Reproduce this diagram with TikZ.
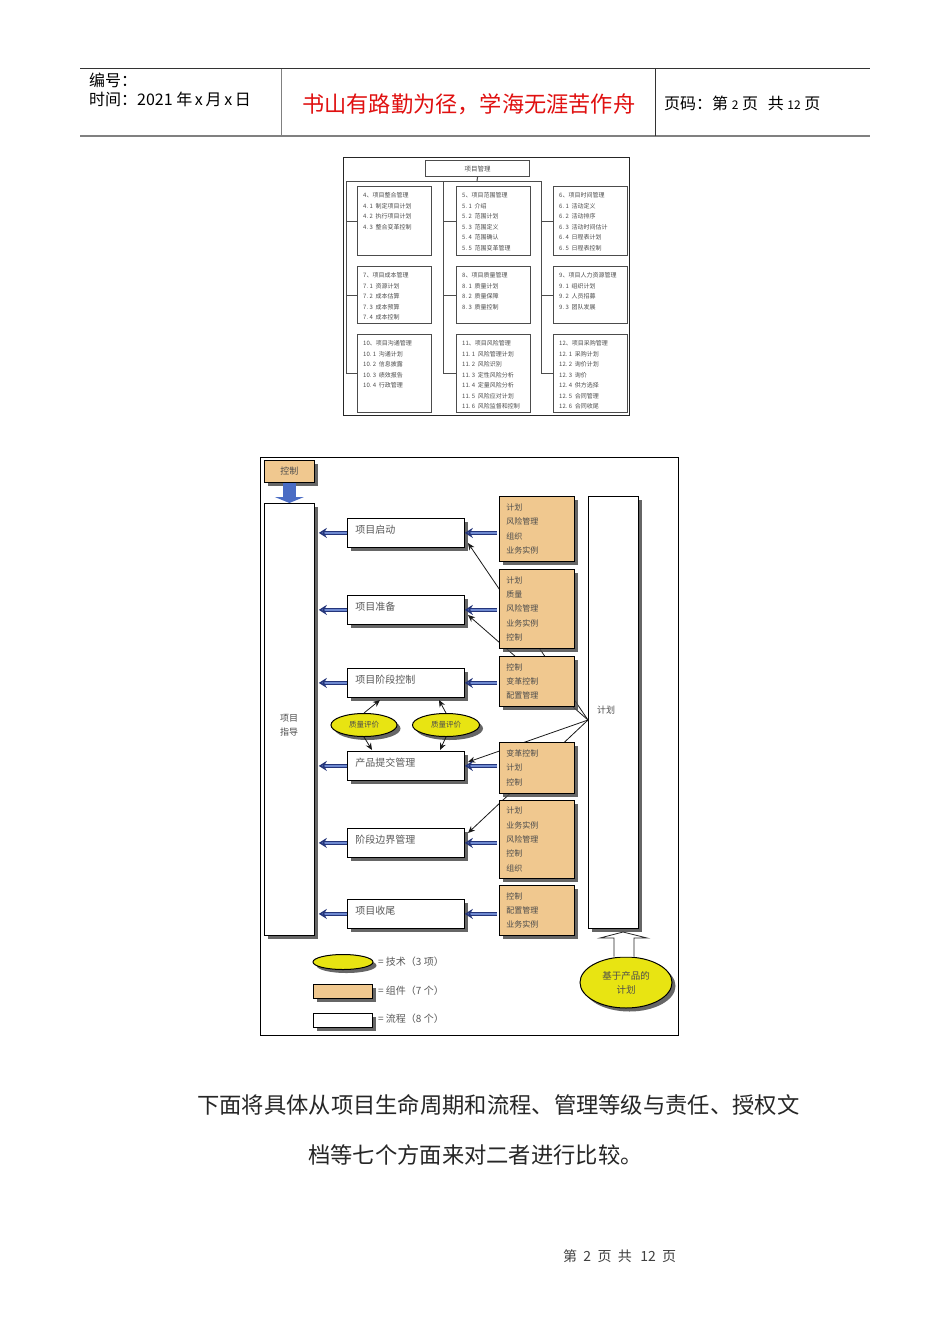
\documentclass[tikz,border=0pt]{standalone}
\usepackage{fontspec}
\usepackage{xcolor}
\usetikzlibrary{arrows.meta,shapes.geometric,shadows,calc}
\newfontfamily\cjk{Noto Sans CJK SC}
\definecolor{compcol}{HTML}{F0C88F}
\definecolor{techcol}{HTML}{E8E412}
\definecolor{navycol}{HTML}{24357A}
\definecolor{bluecol}{HTML}{4A6CC4}
\definecolor{titlered}{HTML}{E01010}
\tikzset{
  softshadow/.style={drop shadow={shadow xshift=3.5pt,shadow yshift=-3.5pt,fill=black!70,opacity=.85}},
  wbsbox/.style={draw=black!70,line width=1.1pt,fill=white,anchor=north west,inner sep=0},
  wbslist/.style={anchor=north west,inner sep=0,align=left,text=black!70,font=\fontsize{6}{10.5}\cjk},
  wbsline/.style={draw=black!70,line width=1pt},
  procbox/.style={draw=black,line width=.8pt,fill=white,anchor=north west,inner sep=0,softshadow,
    minimum width=117pt,minimum height=29pt,align=left,text width=101pt,text height=4.5pt,text depth=4pt,
    text=black!65,font=\fontsize{10}{12}\cjk},
  compbox/.style={draw=black,line width=.8pt,fill=compcol,anchor=north west,inner sep=0,softshadow,
    minimum width=75pt,align=left,text width=61pt,text=black!70,font=\fontsize{8}{14.4}\cjk},
  tallbox/.style={draw=black,line width=.8pt,fill=white,anchor=north west,inner sep=0,softshadow,minimum width=50pt},
  techell/.style={ellipse,draw=black,line width=1pt,fill=techcol,inner sep=0,softshadow,align=center,text=black!70},
  feedarr/.style={draw=navycol,line width=1.5pt,double=bluecol!80,double distance=1.6pt,
    -{Stealth[length=8pt,width=10pt,fill=bluecol!80]}},
  conn/.style={line width=.8pt,black!90,-{Stealth[length=7pt,width=6pt]}},
  caption/.style={anchor=west,inner sep=0,text=black!65,font=\fontsize{10}{12}\cjk},
  bodytext/.style={inner sep=0,font=\fontsize{22.3}{26}\cjk,text=black!85}
}
\begin{document}
\begin{tikzpicture}[x=1pt,y=-1pt]
  \useasboundingbox[fill=white] (0,0) rectangle (950,1344);
  % page header
  \coordinate (hl) at (80,68.5);
  \coordinate (hr) at (870,68.5);
  \coordinate (fl) at (80,136);
  \coordinate (fr) at (870,136);
  \draw[black!80,line width=.8pt] (hl) -- (hr);
  \draw[black!50,line width=1.6pt] (fl) -- (fr);
  \draw[black!50,line width=1pt] (281,68.5) -- (281,136);
  \draw[black!80,line width=.8pt] (655,68.5) -- (655,136);
  \node[anchor=west,inner sep=0,font=\fontsize{16}{18}\cjk] (hnum) at (89,80) {编号：};
  \node[anchor=west,inner sep=0,font=\fontsize{16}{18}\cjk] (htime) at (89,99) {时间：2021 年\,x\,月\,x\,日};
  \node[anchor=west,inner sep=0,text=titlered,font=\fontsize{22.2}{26}\cjk] (hmotto) at (302,104) {书山有路勤为径，学海无涯苦作舟};
  \node[anchor=west,inner sep=0,font=\fontsize{16}{18}\cjk] (hpage) at (664,103) {页码：第 {\fontsize{12}{12}\selectfont 2} 页\ \ \,共 {\fontsize{12}{12}\selectfont 12} 页};

  % knowledge areas
  \draw[black!85,line width=1pt] (343.5,157) rectangle (629,415);
  \node[wbsbox,minimum width=104pt,minimum height=16pt,font=\fontsize{6.5}{8}\cjk,text=black!70] (pm) at (425,160) {项目管理};
  \foreach \n/\x/\y/\h/\txt in {
    4/357/186/69/{4、项目整合管理\\4.\ 1\ \ 制定项目计划\\4.\ 2\ \ 执行项目计划\\4.\ 3\ \ 整合变革控制},
    5/456/186/69/{5、项目范围管理\\5.\ 1\ \ 介绍\\5.\ 2\ \ 范围计划\\5.\ 3\ \ 范围定义\\5.\ 4\ \ 范围确认\\5.\ 5\ \ 范围变革管理},
    6/553/186/69/{6、项目时间管理\\6.\ 1\ \ 活动定义\\6.\ 2\ \ 活动排序\\6.\ 3\ \ 活动时间估计\\6.\ 4\ \ 日程表计划\\6.\ 5\ \ 日程表控制},
    7/357/266/57/{7、项目成本管理\\7.\ 1\ \ 资源计划\\7.\ 2\ \ 成本估算\\7.\ 3\ \ 成本预算\\7.\ 4\ \ 成本控制},
    8/456/266/57/{8、项目质量管理\\8.\ 1\ \ 质量计划\\8.\ 2\ \ 质量保障\\8.\ 3\ \ 质量控制},
    9/553/266/57/{9、项目人力资源管理\\9.\ 1\ \ 组织计划\\9.\ 2\ \ 人员招募\\9.\ 3\ \ 团队发展},
    10/357/334/78/{10、项目沟通管理\\10.\ 1\ \ 沟通计划\\10.\ 2\ \ 信息披露\\10.\ 3\ \ 绩效报告\\10.\ 4\ \ 行政管理},
    11/456/334/78/{11、项目风险管理\\11.\ 1\ \ 风险管理计划\\11.\ 2\ \ 风险识别\\11.\ 3\ \ 定性风险分析\\11.\ 4\ \ 定量风险分析\\11.\ 5\ \ 风险应对计划\\11.\ 6\ \ 风险监督和控制},
    12/553/334/78/{12、项目采购管理\\12.\ 1\ \ 采购计划\\12.\ 2\ \ 询价计划\\12.\ 3\ \ 询价\\12.\ 4\ \ 供方选择\\12.\ 5\ \ 合同管理\\12.\ 6\ \ 合同收尾}}
  {
    \node[wbsbox,minimum width=74pt,minimum height=\h pt] (b\n) at (\x,\y) {};
    \node[wbslist] (t\n) at ([shift={(6,6.5)}]b\n.north west) {\txt};
  }
  \coordinate (tr0) at (477,181);
  \coordinate (tr1) at (346,181);
  \coordinate (tr2) at (443,181);
  \coordinate (tr3) at (541,181);
  \draw[wbsline] (pm.south) -- (tr0);
  \draw[wbsline] (tr1) -- (tr3);
  \foreach \t/\a/\b/\c in {tr1/b4/b7/b10,tr2/b5/b8/b11,tr3/b6/b9/b12}
  {
    \draw[wbsline] (\t) |- (\c.west);
    \draw[wbsline] (\t |- \a.west) -- (\a.west);
    \draw[wbsline] (\t |- \b.west) -- (\b.west);
  }

  % process model
  \draw[black,line width=1pt] (260,457) rectangle (678,1035);
  \node[tallbox,minimum height=432pt] (lead) at (264,503) {};
  \node[tallbox,minimum height=432pt] (plan) at (588,496) {};
  \node[inner sep=0,align=center,text=black!70,font=\fontsize{9}{14}\cjk] (leadt) at (289,725) {项目\\指导};
  \node[inner sep=0,text=black!70,font=\fontsize{9}{11}\cjk] (plant) at (606,710) {计划};
  \node[compbox,minimum width=50pt,minimum height=22pt,text width=18pt,align=center,font=\fontsize{9}{11}\cjk] (ctl) at (264,460) {控制};
  \draw[line width=13pt,bluecol,-{Triangle[length=6pt,width=29pt]}] (ctl.south) -- (lead.north);
  \foreach \n/\y/\txt in {1/518/项目启动,2/595/项目准备,3/668/项目阶段控制,4/751/产品提交管理,5/828/阶段边界管理,6/899/项目收尾}
    \node[procbox] (p\n) at (347,\y) {\txt};

  % lines out of the plan, they pass behind the components
  \coordinate (hub) at (588,720);
  \coordinate (e1) at (468,543);
  \coordinate (e2) at (468,615);
  \coordinate (e4) at (468,762);
  \coordinate (e5) at (468,833);
  \foreach \e in {e1,e2,e4,e5}
    \draw[conn] (hub) -- (\e);

  \foreach \n/\y/\h/\txt in {
    1/496/65/{计划\\风险管理\\组织\\业务实例},
    2/569/79/{计划\\质量\\风险管理\\业务实例\\控制},
    3/656/50/{控制\\变革控制\\配置管理},
    4/742/51/{变革控制\\计划\\控制},
    5/800/78/{计划\\业务实例\\风险管理\\控制\\组织},
    6/885/50/{控制\\配置管理\\业务实例}}
    \node[compbox,minimum height=\h pt] (c\n) at (499,\y) {\txt};
  \foreach \n in {1,...,6}
  {
    \draw[feedarr] ([xshift=-2pt]c\n.west |- p\n.east) -- (p\n.east);
    \draw[feedarr] (p\n.west) -- ([xshift=4pt]lead.east |- p\n.west);
  }

  % quality reviews
  \node[techell,minimum width=66pt,minimum height=23pt,font=\fontsize{7.5}{8}\cjk] (qa) at (364,725) {质量评价};
  \node[techell,minimum width=67pt,minimum height=23pt,font=\fontsize{7.5}{8}\cjk] (qb) at (446,725) {质量评价};
  \coordinate (qat) at (380,700);
  \coordinate (qbt) at (439,700);
  \coordinate (qad) at (372,750);
  \coordinate (qbd) at (440,750);
  \draw[conn] (qa.north) -- (qat);
  \draw[conn] (qb.north) -- (qbt);
  \draw[conn] (qa.south) -- (qad);
  \draw[conn] (qb.south) -- (qbd);

  % product based planning
  \node[techell,minimum width=92pt,minimum height=51pt,font=\fontsize{9.5}{14}\cjk] (pbp) at (626,982.5) {基于产品的\\计划};
  \draw[black!85,line width=.8pt,fill=white] (pbp.north -| 614,0) -- (614,938) -- (600,938) -- (623,932) -- (647,938) -- (634,938) -- (pbp.north -| 634,0);

  % legend
  \node[techell,minimum width=60pt,minimum height=15pt] (ltech) at (343,962) {};
  \node[compbox,minimum width=59pt,minimum height=14pt,text width=10pt] (lcomp) at (313,984) {};
  \node[procbox,minimum width=59pt,minimum height=14pt,text width=10pt] (lproc) at (313,1013) {};
  \node[caption] (ltecht) at (378,962) {= 技术（3 项）};
  \node[caption] (lcompt) at (378,991) {= 组件（7 个）};
  \node[caption] (lproct) at (378,1019) {= 流程（8 个）};

  % page text
  \node[bodytext,anchor=west] (para1) at (197,1105) {下面将具体从项目生命周期和流程、管理等级与责任、授权文};
  \node[bodytext,anchor=west] (para2) at (308,1155) {档等七个方面来对二者进行比较。};
  \node[anchor=west,inner sep=0,text=black!75,font=\fontsize{14}{16}\cjk] (foot) at (563,1256) {第\ \ 2\ \ 页\ \ 共\ \ \,12\ \ 页};
\end{tikzpicture}
\end{document}
